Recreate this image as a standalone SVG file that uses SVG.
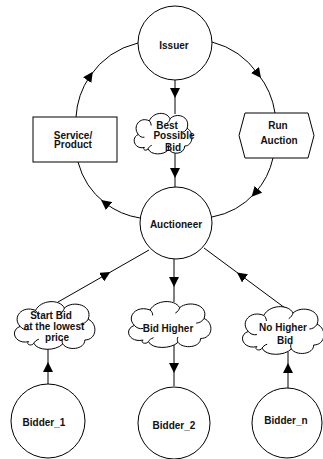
<svg xmlns="http://www.w3.org/2000/svg" xmlns:xlink="http://www.w3.org/1999/xlink" width="323" height="459" viewBox="0 0 323 459">
<style>
.shape{fill:#ffffff;stroke:#000000;stroke-width:1}
.cl{fill:#ffffff;stroke:#000000;stroke-width:1;vector-effect:non-scaling-stroke}
.ci{fill:none;stroke:#000000;stroke-width:1;vector-effect:non-scaling-stroke}
.conn{fill:none;stroke:#000000;stroke-width:1;marker-mid:url(#arr)}
text{font-family:"Liberation Sans",Arial,sans-serif;font-weight:bold;font-size:10px;fill:#111111;text-anchor:middle}
</style>
<defs>
<marker id="arr" markerUnits="userSpaceOnUse" markerWidth="10" markerHeight="10" refX="4" refY="4" orient="auto" viewBox="0 0 8 8">
<path d="M0,0 L8,4 L0,8 z" fill="#000000"/>
</marker>
<g id="cloud">
<path class="cl" d="M 22 52 C 6 56 -1 38 12 33 C 2 22 14 6 30 13 C 36 0 58 -2 64 10 C 74 0 98 6 92 24 C 104 30 102 50 88 50 C 88 62 68 64 62 55 C 54 64 32 64 28 54 C 26 58 18 56 22 52 Z"/>
<path class="ci" d="M 12 33 C 14 36 18 38 22 37 M 30 13 C 32 15 33 17 33 20 M 64 10 C 63 13 62 15 59 17 M 92 24 C 90 28 86 30 83 30 M 62 55 C 61 52 61 50 62 48 M 28 54 C 29 52 31 50 34 49"/>
</g>
</defs>

<g id="connectors">
<path class="conn" d="M76,117 A81 81 0 0 1 90,76 A81 81 0 0 1 138,43"/>
<path class="conn" d="M140,218 A76 76 0 0 1 105,203 A76 76 0 0 1 78,162"/>
<path class="conn" d="M212,42 A81 81 0 0 1 258,74 A81 81 0 0 1 275,113"/>
<path class="conn" d="M273,158 A76 76 0 0 1 255,193 A76 76 0 0 1 212,217"/>
<path class="conn" d="M175,80 L175,93 L175,114"/>
<path class="conn" d="M175,153 L175,173 L175,187"/>
<path class="conn" d="M58,302 L106,274.6 L149,250"/>
<path class="conn" d="M174,259 L174,282 L174,302"/>
<path class="conn" d="M285,308 L241,275.4 L204,248"/>
<path class="conn" d="M48,384 L48,367 L48,347"/>
<path class="conn" d="M174,345 L174,368 L174,386"/>
<path class="conn" d="M288,388 L288,368 L288,352"/>
</g>

<g id="issuer">
<circle class="shape" cx="175" cy="43" r="37"/>
<text x="174" y="48.5">Issuer</text>
</g>

<g id="service-product">
<rect class="shape" x="33" y="117" width="84" height="45"/>
<text x="73" y="138.5">Service/</text>
<text x="73" y="148">Product</text>
</g>

<g id="run-auction">
<polygon class="shape" points="245,113 308,113 314,135.5 308,158 245,158 239,135.5"/>
<text x="278" y="129">Run</text>
<text x="279" y="144">Auction</text>
</g>

<g id="best-possible-bid">
<use xlink:href="#cloud" href="#cloud" transform="translate(131,112) scale(0.61,0.68)"/>
<text x="167" y="128.5">Best</text>
<text x="174" y="139">Possible</text>
<text x="173" y="150.5">Bid</text>
</g>

<g id="auctioneer">
<circle class="shape" cx="176" cy="223" r="36"/>
<text x="176" y="227.5">Auctioneer</text>
</g>

<g id="start-bid">
<use xlink:href="#cloud" href="#cloud" transform="translate(10,300) scale(0.85,0.8)"/>
<text x="51" y="319">Start Bid</text>
<text x="54" y="329.5">at the lowest</text>
<text x="57" y="340.5">price</text>
</g>

<g id="bid-higher">
<use xlink:href="#cloud" href="#cloud" transform="translate(124,300) scale(0.87,0.77)"/>
<text x="168" y="331.5">Bid Higher</text>
</g>

<g id="no-higher-bid">
<use xlink:href="#cloud" href="#cloud" transform="translate(238,305) scale(0.86,0.8)"/>
<text x="283" y="330.5">No Higher</text>
<text x="285" y="344">Bid</text>
</g>

<g id="bidder-1">
<circle class="shape" cx="48" cy="421" r="37"/>
<text x="44" y="425.5">Bidder_1</text>
</g>

<g id="bidder-2">
<circle class="shape" cx="174" cy="423" r="36"/>
<text x="174" y="428.5">Bidder_2</text>
</g>

<g id="bidder-n">
<circle class="shape" cx="287" cy="423" r="35"/>
<text x="286" y="423.5">Bidder_n</text>
</g>
</svg>
